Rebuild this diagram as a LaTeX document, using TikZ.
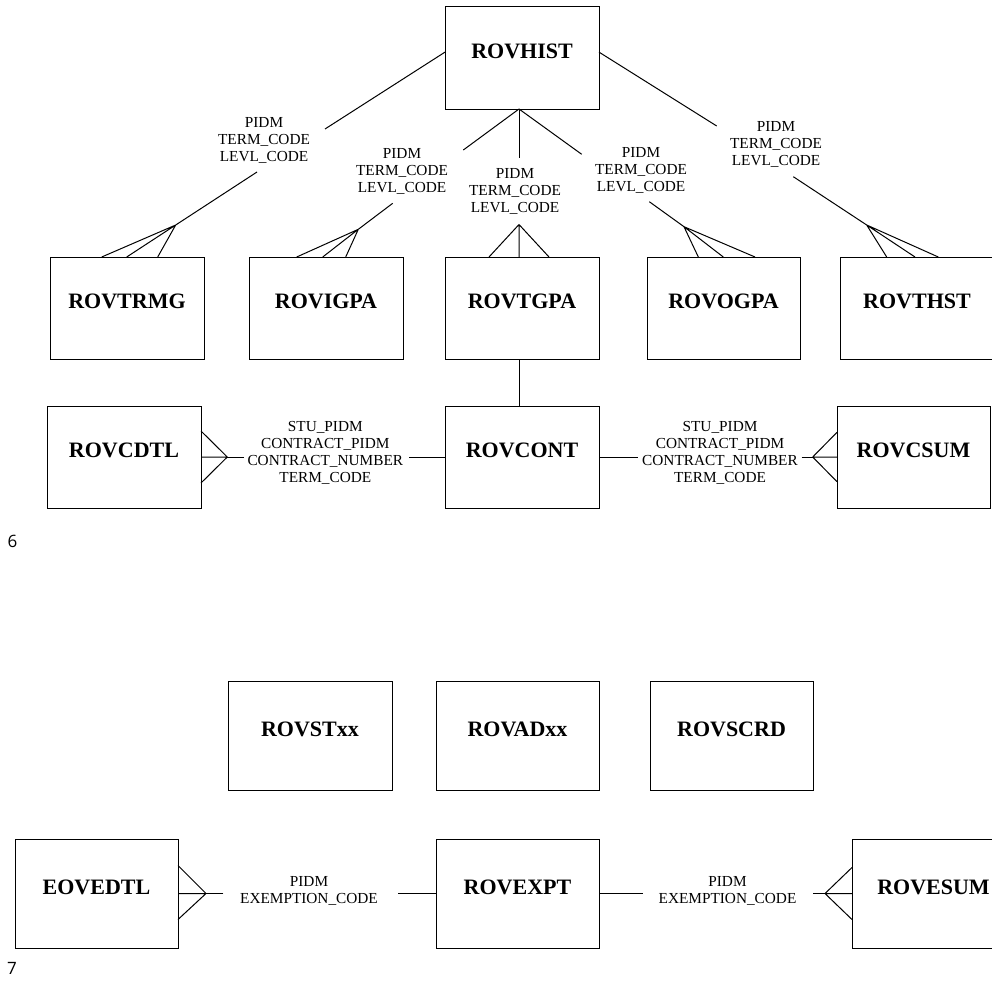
\documentclass[tikz,border=0pt]{standalone}
\usepackage{fontspec}
\setmainfont{Liberation Serif}
\newfontfamily\pagefont{Open Sans}
\usetikzlibrary{calc}

\begin{document}
\begin{tikzpicture}[x=1pt,y=-1pt,
  entity/.style={draw, rectangle, line width=1pt, inner sep=0pt, outer sep=0pt,
    font=\bfseries\fontsize{22}{24}\selectfont, text height=15pt, text depth=14pt},
  small/.style={entity, minimum width=154pt, minimum height=102pt},
  wide/.style={entity, minimum width=163pt, minimum height=109pt},
  link/.style={line width=1pt},
  keys/.style={align=center, inner sep=0pt, font=\fontsize{15.3}{17}\selectfont},
  pagenum/.style={inner sep=0pt, font=\pagefont\fontsize{17}{19}\selectfont}
]
\useasboundingbox (0,0) rectangle (992,980);
\clip (0,0) rectangle (992,980);

% ---- entities ----
\node[small, minimum height=103pt] (hist) at (522,57.5) {ROVHIST};

\node[small] (trmg) at (127,308)   {ROVTRMG};
\node[small] (igpa) at (326,308)   {ROVIGPA};
\node[small] (tgpa) at (522,308)   {ROVTGPA};
\node[small, minimum width=153pt] (ogpa) at (723.5,308) {ROVOGPA};
\node[small] (thst) at (917,308)   {ROVTHST};

\node[small] (cdtl) at (124,457)   {ROVCDTL};
\node[small] (cont) at (522,457)   {ROVCONT};
\node[small, minimum width=153pt] (csum) at (913.5,457) {ROVCSUM};

\node[wide, minimum width=164pt] (stxx) at (310,735.5) {ROVSTxx};
\node[wide] (adxx) at (517.5,735.5) {ROVADxx};
\node[wide] (scrd) at (731.5,735.5) {ROVSCRD};

\node[wide] (edtl) at (96.5,893.5)  {EOVEDTL};
\node[wide] (expt) at (517.5,893.5) {ROVEXPT};
\node[wide] (esum) at (933.5,893.5) {ROVESUM};

% ---- key labels ----
\node[keys] (k1) at (264,140)   {PIDM\\TERM\_CODE\\LEVL\_CODE};
\node[keys] (k2) at (402,171)   {PIDM\\TERM\_CODE\\LEVL\_CODE};
\node[keys] (k3) at (515,191)   {PIDM\\TERM\_CODE\\LEVL\_CODE};
\node[keys] (k4) at (641,170)   {PIDM\\TERM\_CODE\\LEVL\_CODE};
\node[keys] (k5) at (776,144)   {PIDM\\TERM\_CODE\\LEVL\_CODE};
\node[keys] (k6) at (325.3,453.4) {STU\_PIDM\\CONTRACT\_PIDM\\CONTRACT\_NUMBER\\TERM\_CODE};
\node[keys] (k7) at (720,453.4)   {STU\_PIDM\\CONTRACT\_PIDM\\CONTRACT\_NUMBER\\TERM\_CODE};
\node[keys] (k8) at (309,890.5)   {PIDM\\EXEMPTION\_CODE};
\node[keys] (k9) at (727.5,890.5) {PIDM\\EXEMPTION\_CODE};

% ---- page numbers ----
\node[pagenum] (p6) at (12.5,541) {6};
\node[pagenum] (p7) at (12,968)   {7};

% ---- connector break points and crow's-foot junctions ----
\coordinate (hb) at ([xshift=-3pt]hist.south);
\coordinate (g1a) at (325,129);   \coordinate (g1b) at (257,172);   \coordinate (f1) at (175.7,225);
\coordinate (g2a) at (463.3,150); \coordinate (g2b) at (392.7,203.3); \coordinate (f2) at (358.3,229.3);
\coordinate (g3a) at (519,158.3); \coordinate (f3) at (519,224.5);
\coordinate (g4a) at (581.7,154.3); \coordinate (g4b) at (649.3,201.7); \coordinate (f4) at (684,226.7);
\coordinate (g5a) at (716.7,126); \coordinate (g5b) at (793.3,176.7); \coordinate (f5) at (866.7,225);

\coordinate (c1) at (227.3,457);  \coordinate (g6a) at (244,457);   \coordinate (g6b) at (409.3,457);
\coordinate (g7a) at (638.3,457); \coordinate (g7b) at (801.7,457); \coordinate (c2) at (812.7,457);
\coordinate (c3) at (206,893.5);  \coordinate (g8a) at (223.3,893.5); \coordinate (g8b) at (398.3,893.5);
\coordinate (g9a) at (643.3,893.5); \coordinate (g9b) at (813.3,893.5); \coordinate (c4) at (825,893.5);

% ---- ROVHIST to the term-level tables ----
\draw[link] (hist.176) -- (g1a) (g1b) -- (f1);
\draw[link] (f1) -- ([xshift=51.7pt]trmg.north west)
            (f1) -- ([xshift=76.7pt]trmg.north west)
            (f1) -- ([xshift=107.7pt]trmg.north west);

\draw[link] (hb) -- (g2a) (g2b) -- (f2);
\draw[link] (f2) -- ([xshift=47.7pt]igpa.north west)
            (f2) -- ([xshift=73.7pt]igpa.north west)
            (f2) -- ([xshift=96.7pt]igpa.north west);

\draw[link] (hb) -- (g3a);
\draw[link] (f3) -- ([xshift=44pt]tgpa.north west)
            (f3) -- ([xshift=74pt]tgpa.north west)
            (f3) -- ([xshift=104pt]tgpa.north west);

\draw[link] (hb) -- (g4a) (g4b) -- (f4);
\draw[link] (f4) -- ([xshift=51.3pt]ogpa.north west)
            (f4) -- ([xshift=76.3pt]ogpa.north west)
            (f4) -- ([xshift=108pt]ogpa.north west);

\draw[link] (hist.4) -- (g5a) (g5b) -- (f5);
\draw[link] (f5) -- ([xshift=46.7pt]thst.north west)
            (f5) -- ([xshift=75pt]thst.north west)
            (f5) -- ([xshift=98.3pt]thst.north west);

% ---- contract tables ----
\draw[link] ([xshift=-3pt]tgpa.south) -- ([xshift=-3pt]cont.north);

\draw[link] (cont.west) -- (g6b) (g6a) -- (c1);
\draw[link] (c1) -- ([yshift=26pt]cdtl.east)
            (c1) -- (cdtl.east)
            (c1) -- ([yshift=-26pt]cdtl.east);

\draw[link] (cont.east) -- (g7a) (g7b) -- (c2);
\draw[link] (c2) -- ([yshift=24.7pt]csum.west)
            (c2) -- (csum.west)
            (c2) -- ([yshift=-24.7pt]csum.west);

% ---- exemption tables ----
\draw[link] (expt.west) -- (g8b) (g8a) -- (c3);
\draw[link] (c3) -- ([yshift=28pt]edtl.east)
            (c3) -- (edtl.east)
            (c3) -- ([yshift=-26pt]edtl.east);

\draw[link] (expt.east) -- (g9a) (g9b) -- (c4);
\draw[link] (c4) -- ([yshift=26pt]esum.west)
            (c4) -- (esum.west)
            (c4) -- ([yshift=-26pt]esum.west);
\end{tikzpicture}
\end{document}
